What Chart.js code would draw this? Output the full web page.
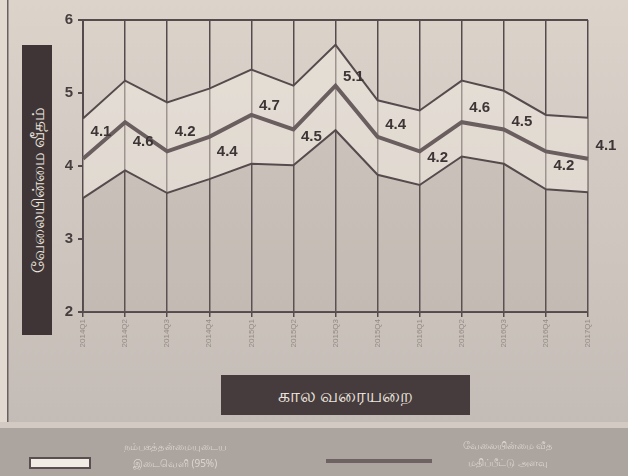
<!DOCTYPE html>
<html lang="ta">
<head>
  <meta charset="UTF-8" />
  <title>வேலையின்மை வீதம்</title>
  <script src="https://cdn.jsdelivr.net/npm/chart.js"></script>
  <style>
    body {
      margin: 0;
      padding: 0;
      width: 628px;
      height: 476px;
      overflow: hidden;
      background: #d3cac1;
    }

    .wrap {
      position: relative;
      width: 628px;
      height: 476px;
    }

    canvas {
      position: absolute;
      left: 0;
      top: 0;
    }

    .box {
      position: absolute;
      background: #3f3537;
      color: #ebe5df;
      font-family: "Noto Sans", "DejaVu Sans", sans-serif;
      display: flex;
      align-items: center;
      justify-content: center;
    }

    .box--y {
      left: 22px;
      top: 45px;
      width: 30px;
      height: 290px;
      font-size: 17px;
    }

    .box--y span {
      writing-mode: vertical-rl;
      transform: rotate(180deg);
      white-space: nowrap;
    }

    .box--x {
      left: 221px;
      top: 375px;
      width: 249px;
      height: 40px;
      font-size: 19px;
      background: #463c3d;
    }

    .legend-text {
      position: absolute;
      color: #ddd6cf;
      font-family: "Noto Sans", "DejaVu Sans", sans-serif;
      font-size: 10px;
      line-height: 17px;
      text-align: center;
      white-space: nowrap;
    }

    .swatch-band {
      position: absolute;
      left: 29px;
      top: 457px;
      width: 58px;
      height: 8px;
      background: #f1ece4;
      border: 2px solid #5a4f50;
    }

    .swatch-line {
      position: absolute;
      left: 326px;
      top: 459px;
      width: 106px;
      height: 4px;
      background: #6e6263;
    }
  </style>
</head>
<body>
  <div class="wrap">
    <canvas id="rateChart" width="628" height="476"></canvas>
    <div class="box box--y"><span>வேலையின்மை வீதம்</span></div>
    <div class="box box--x">கால வரையறை</div>
    <div class="swatch-band"></div>
    <div class="legend-text" style="left:115px; top:438px; width:120px;">நம்பகத்தன்மையுடைய<br>இடைவெளி (95%)</div>
    <div class="swatch-line"></div>
    <div class="legend-text" style="left:448px; top:437px; width:120px;">வேலையின்மை வீத<br>மதிப்பீட்டு அளவு</div>
  </div>

  <script>
    // காலாண்டுகள்
    const quarters = ['2014Q1', '2014Q2', '2014Q3', '2014Q4', '2015Q1', '2015Q2', '2015Q3',
                      '2015Q4', '2016Q1', '2016Q2', '2016Q3', '2016Q4', '2017Q1'];
    // வேலையின்மை வீதம் (%)
    const rate = [4.1, 4.6, 4.2, 4.4, 4.7, 4.5, 5.1, 4.4, 4.2, 4.6, 4.5, 4.2, 4.1];
    // 95% நம்பக இடைவெளி
    const upperCI = [4.65, 5.17, 4.87, 5.06, 5.32, 5.10, 5.66, 4.90, 4.76, 5.17, 5.03, 4.70, 4.66];
    const lowerCI = [3.56, 3.94, 3.63, 3.82, 4.03, 4.01, 4.49, 3.88, 3.74, 4.13, 4.03, 3.68, 3.64];
    // y அச்சு
    const yTicks = [2, 3, 4, 5, 6];

    const ink = '#564b4c';

    // பழைய காகித பின்னணி
    const paperPlugin = {
      id: 'paper',
      beforeDraw(chart) {
        const ctx = chart.ctx;
        const g = ctx.createLinearGradient(0, 0, 0, 430);
        g.addColorStop(0, '#dcd4cb');
        g.addColorStop(1, '#c3bbb5');
        ctx.save();
        ctx.fillStyle = g;
        ctx.fillRect(0, 0, chart.width, chart.height);
        // கீழே விளக்கப் பட்டை
        ctx.fillStyle = '#d2cac3';
        ctx.fillRect(0, 422, chart.width, 6);
        ctx.fillStyle = '#aba49f';
        ctx.fillRect(0, 428, chart.width, chart.height - 428);
        // இடது ஓர கோடு
        ctx.fillStyle = '#e2dad1';
        ctx.fillRect(0, 0, 7, 422);
        ctx.fillStyle = '#6a6060';
        ctx.fillRect(7, 0, 1.5, 422);
        ctx.restore();
      }
    };

    // புள்ளி மதிப்புகள் (கோட்டின் வலப்புறம், மேலே/கீழே)
    const valueLabels = {
      id: 'valueLabels',
      afterDatasetsDraw(chart, args, opts) {
        const ctx = chart.ctx;
        const meta = chart.getDatasetMeta(1);
        ctx.save();
        ctx.font = 'bold 15px "Liberation Sans", Arial, sans-serif';
        ctx.fillStyle = '#3d3535';
        ctx.textAlign = 'center';
        ctx.textBaseline = 'middle';
        meta.data.forEach((pt, i) => {
          ctx.fillText(rate[i].toFixed(1), pt.x + opts.dx, pt.y + opts.dy[i]);
        });
        ctx.restore();
      }
    };

    const config = {
      type: 'line',
      data: {
        labels: quarters,
        datasets: [
          {
            label: 'upper',
            data: upperCI,
            borderColor: ink,
            borderWidth: 2,
            backgroundColor: 'rgba(245, 238, 228, 0.45)',
            fill: 2,
            pointRadius: 0,
            tension: 0
          },
          {
            label: 'rate',
            data: rate,
            borderColor: '#6a5e5f',
            borderWidth: 4,
            fill: false,
            pointRadius: 0,
            tension: 0
          },
          {
            label: 'lower',
            data: lowerCI,
            borderColor: ink,
            borderWidth: 2,
            backgroundColor: 'rgba(140, 128, 122, 0.12)',
            fill: 'start',
            pointRadius: 0,
            tension: 0
          }
        ]
      },
      options: {
        responsive: false,
        animation: false,
        layout: {
          padding: { left: 0, top: 20, right: 40, bottom: 0 }
        },
        plugins: {
          legend: { display: false },
          tooltip: { enabled: false },
          filler: { drawTime: 'beforeDatasetsDraw' },
          valueLabels: {
            dx: 18,
            dy: [-27, 20, -20, 15, -9, 7, -9, -12, 6, -14, -8, 14, -13]
          }
        },
        scales: {
          x: {
            offset: false,
            afterFit(scale) { scale.height = 164; },
            grid: {
              color: ink,
              lineWidth: 1.5,
              tickLength: 5
            },
            border: { color: ink, width: 2 },
            ticks: {
              minRotation: 90,
              maxRotation: 90,
              padding: 2,
              color: '#948b86',
              font: { family: 'Liberation Sans', size: 8 }
            }
          },
          y: {
            min: yTicks[0],
            max: yTicks[yTicks.length - 1],
            afterFit(scale) { scale.width = 83; },
            afterBuildTicks(scale) { scale.ticks = yTicks.map(v => ({ value: v })); },
            grid: {
              color: ctx => (ctx.tick && ctx.tick.value === yTicks[yTicks.length - 1]) ? ink : 'rgba(0,0,0,0)',
              tickColor: ink,
              lineWidth: 2,
              tickLength: 5
            },
            border: { color: ink, width: 2 },
            ticks: {
              padding: 5,
              color: '#463e3e',
              font: { family: 'Liberation Sans', size: 15, weight: 'bold' }
            }
          }
        }
      },
      plugins: [paperPlugin, valueLabels]
    };

    new Chart(document.getElementById('rateChart').getContext('2d'), config);
  </script>
</body>
</html>
